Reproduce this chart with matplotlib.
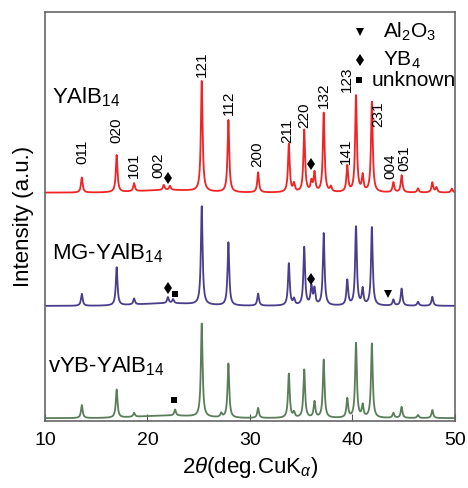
import numpy as np
import matplotlib.pyplot as plt

plt.rcParams['font.family'] = ['Liberation Sans', 'DejaVu Sans']
plt.rcParams['mathtext.fontset'] = 'custom'
plt.rcParams['mathtext.rm'] = 'Liberation Sans'
plt.rcParams['mathtext.it'] = 'Liberation Sans:italic'

# peak positions (2theta) and heights (a.u.)
red_pos = [13.6, 17.0, 18.7, 21.6, 22.2, 25.3, 27.9, 30.8, 33.8, 34.3, 35.3, 36.0, 36.3,
           37.2, 37.9, 39.5, 40.35, 41.0, 41.9, 44.0, 44.8, 46.4, 47.8, 48.2, 49.7]
red_h = [15, 37, 8, 5, 4, 110, 72, 20, 48, 8, 62, 10, 19,
         79, 5, 26, 97, 16, 90, 10, 17, 4, 10, 5, 4]
mg_pos = [13.6, 17.0, 18.7, 22.0, 22.5, 25.3, 27.9, 30.8, 33.8, 34.3, 35.3, 36.0, 36.3,
          37.2, 39.5, 40.35, 41.0, 41.9, 44.0, 44.8, 46.4, 47.8]
mg_h = [12, 38, 6, 6, 4, 98, 63, 12, 42, 6, 58, 18, 16,
        72, 25, 79, 16, 78, 6, 17, 4, 9]
vyb_pos = [13.6, 17.0, 18.7, 22.7, 25.3, 27.2, 27.9, 30.8, 33.8, 34.3, 35.3, 36.3,
           37.2, 39.5, 40.35, 41.0, 41.9, 44.0, 44.8, 46.4, 47.8]
vyb_h = [13, 28, 4, 6, 93, 4, 54, 10, 44, 5, 48, 16,
         58, 19, 75, 12, 74, 5, 11, 3, 8]
offsets = [228, 115, 3]
names = ['YAlB$_{14}$', 'MG-YAlB$_{14}$', 'vYB-YAlB$_{14}$']
colors = ['#f02424', '#4a3d8c', '#5a7d5a']

# hkl labels: (2theta, y)
hkl = ['011', '020', '101', '002', '121', '112', '200', '211', '220', '132', '141',
       '123', '231', '004', '051']
hkl_x = [13.7, 16.95, 18.7, 21.1, 25.3, 27.95, 30.7, 33.6, 35.3, 37.2, 39.4,
         39.5, 42.5, 43.7, 45.1]
hkl_y = [257, 278, 243, 243, 343, 305, 254, 278, 292, 312, 257,
         328, 293, 242, 250]

# phase markers
yb4_x = [22.0, 36.0, 22.0, 36.0]
yb4_y = [243, 257, 133, 142]
unk_x = [22.7, 22.6]
unk_y = [127, 21]
al_x = [43.5]
al_y = [127]

x = np.arange(10, 50.001, 0.02)


def pattern(pos, h, off):
    y = np.full_like(x, off, dtype=float)
    w = 0.1
    for p, a in zip(pos, h):
        y += a * w**2 / ((x - p)**2 + w**2)
    y += 2.5 * np.exp(-((x - 22) / 4) ** 2)
    return y


fig = plt.figure(figsize=(4.68, 4.88), dpi=100)
ax = fig.add_axes([0.096, 0.137, 0.876, 0.838])

for pos, h, off, c in zip([red_pos, mg_pos, vyb_pos], [red_h, mg_h, vyb_h], offsets, colors):
    ax.plot(x, pattern(pos, h, off), color=c, lw=1.3)

for t, tx, ty in zip(hkl, hkl_x, hkl_y):
    ax.text(tx, ty, t, rotation=90, ha='center', va='bottom', fontsize=11)

ax.plot(yb4_x, yb4_y, 'kd', ms=6, mew=0)
ax.plot(unk_x, unk_y, 'ks', ms=5, mew=0)
ax.plot(al_x, al_y, 'kv', ms=6, mew=0)

# legend drawn as text
ax.plot([40.7], [388], 'kv', ms=6, mew=0)
ax.plot([40.7], [360], 'kd', ms=6, mew=0)
ax.plot([40.6], [340], 'ks', ms=5, mew=0)
ax.text(43.0, 388, 'Al$_2$O$_3$', fontsize=15, va='center')
ax.text(43.0, 360, 'YB$_4$', fontsize=15, va='center')
ax.text(41.9, 340, 'unknown', fontsize=15, va='center')

ax.text(10.7, 323, names[0], fontsize=16, va='center')
ax.text(10.7, 168, names[1], fontsize=16, va='center')
ax.text(10.3, 55, names[2], fontsize=16, va='center')

ax.set_xlim(10, 50)
ax.set_ylim(0, 408)
ax.set_xticks([10, 20, 30, 40, 50])
ax.set_yticks([])
ax.tick_params(axis='x', direction='in', length=5, labelsize=14, pad=8, color='#555555')
for s in ax.spines.values():
    s.set_color('#666666')
    s.set_linewidth(1.2)
ax.set_xlabel(r'2$\mathit{\theta}$(deg.CuK$_\alpha$)', fontsize=16, labelpad=4)
ax.set_ylabel('Intensity (a.u.)', fontsize=16, labelpad=8)

fig.savefig('out.png', dpi=100)
